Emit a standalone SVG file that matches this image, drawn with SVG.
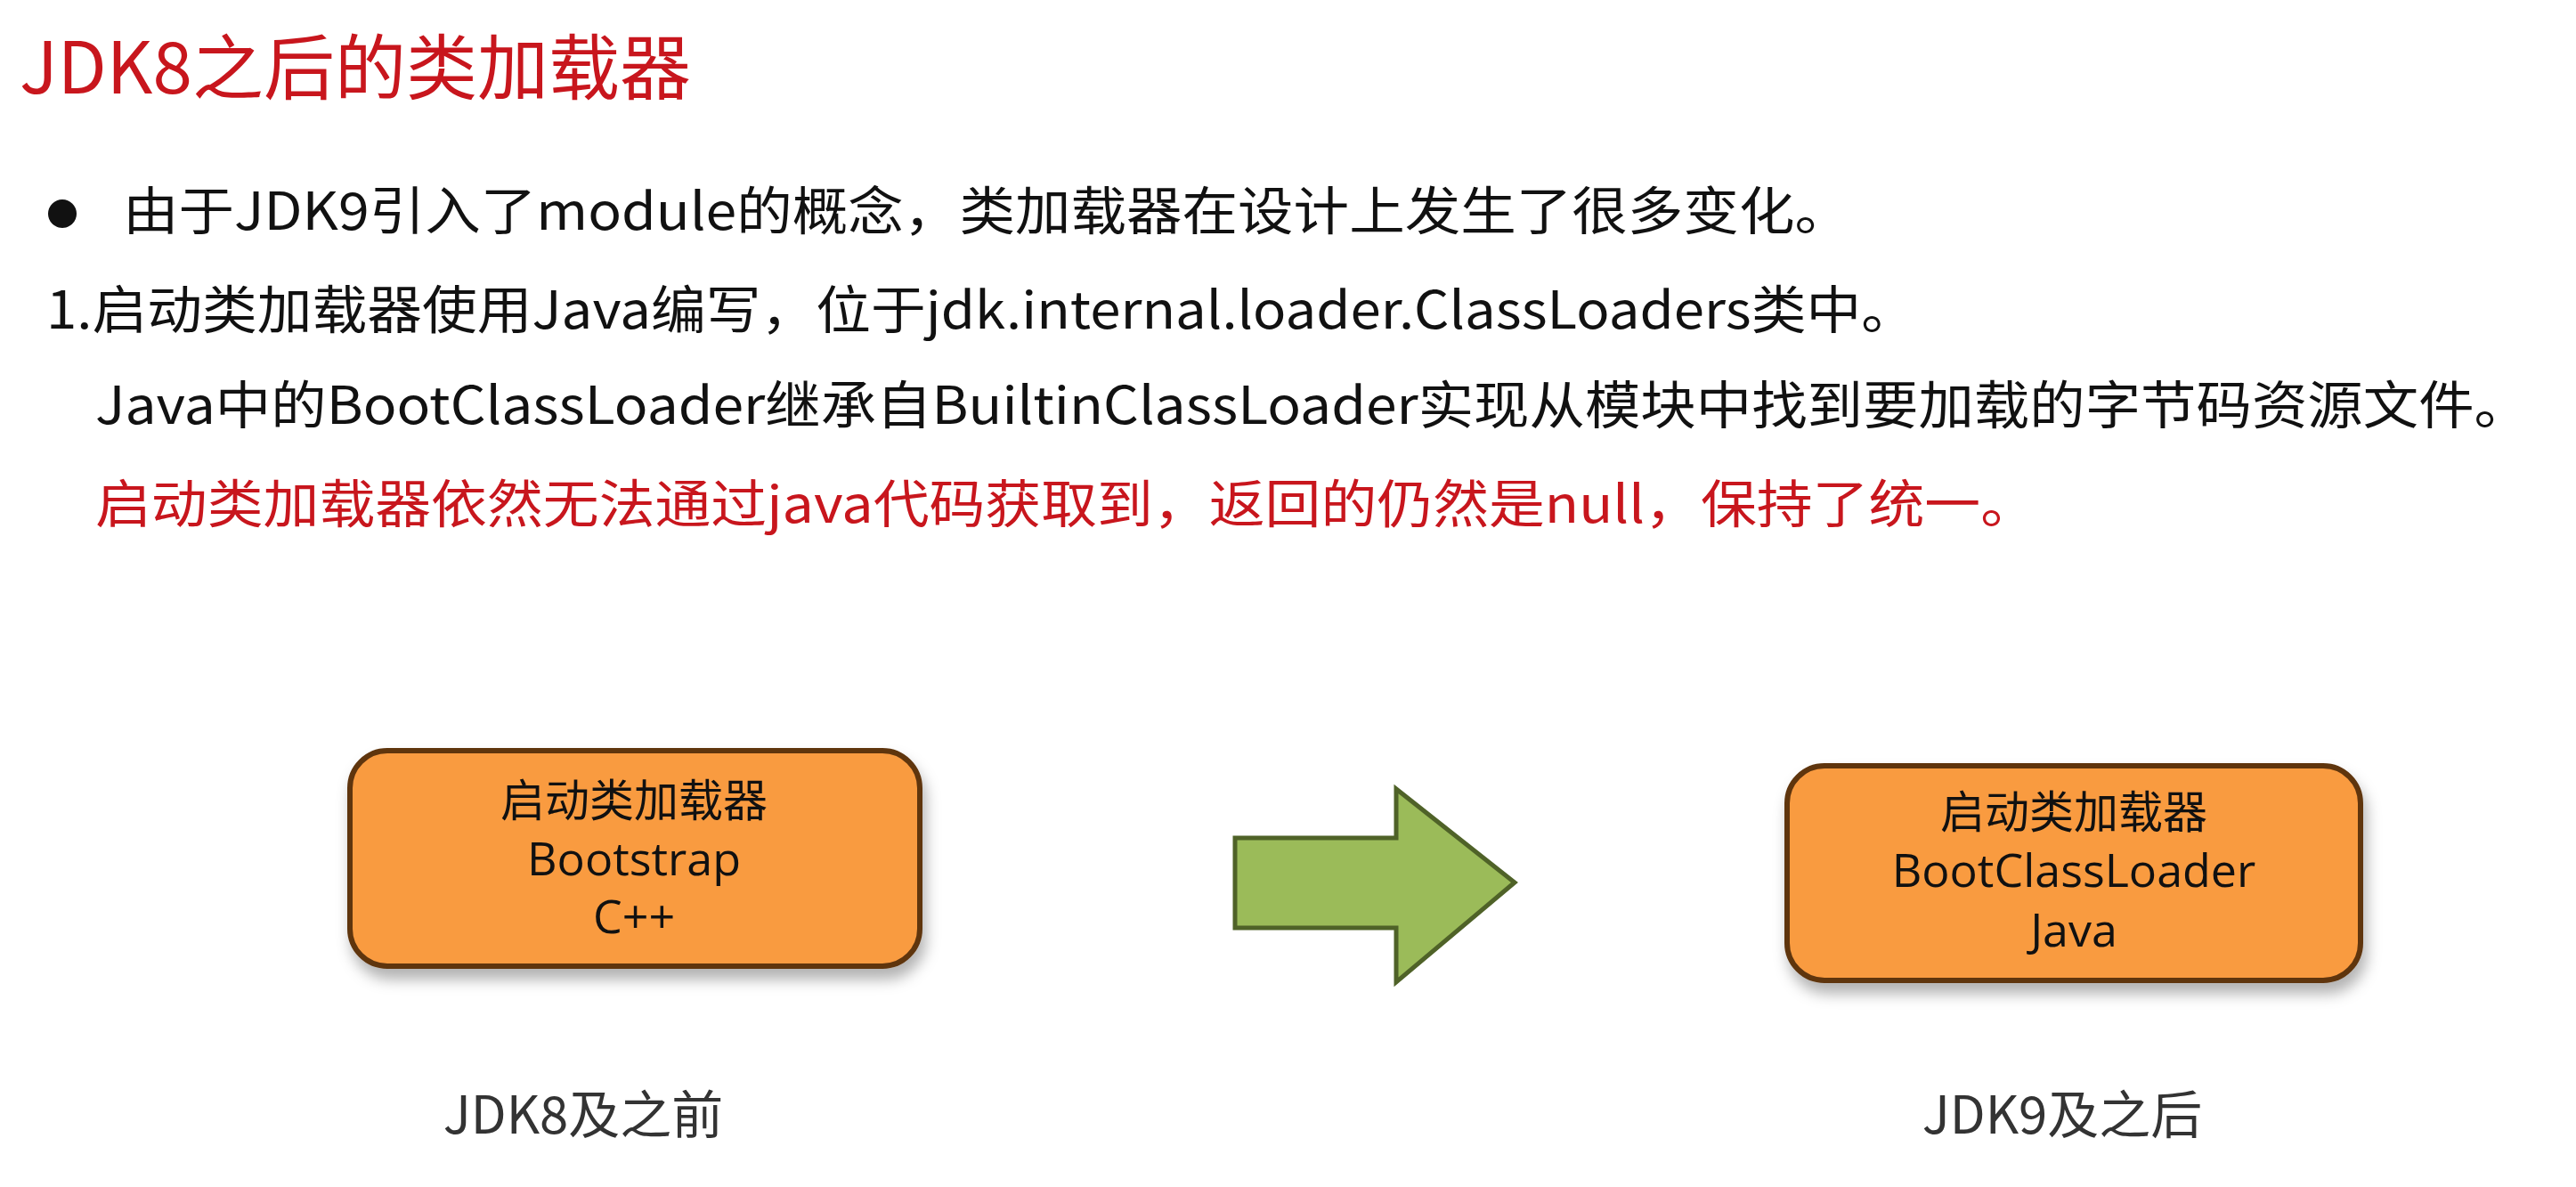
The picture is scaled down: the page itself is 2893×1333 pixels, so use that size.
<svg xmlns="http://www.w3.org/2000/svg" width="2893" height="1333" viewBox="0 0 2893 1333">
<defs>
<filter id="sh" x="-10%" y="-10%" width="130%" height="140%"><feDropShadow dx="4" dy="12" stdDeviation="8" flood-color="#000" flood-opacity="0.3"/></filter>
</defs>
<style>
text{font-family:"Noto Sans CJK SC","Liberation Sans",sans-serif}
.t{font-size:58px;fill:#111}
.r{fill:#c8161d}
.box{fill:#f99b40;stroke:#5e3510;stroke-width:6}
.bt{font-size:50px;fill:#111;text-anchor:middle}
.bl{font-family:"Open Sans","Liberation Sans",sans-serif;font-size:52px}
.lb{font-size:58px;fill:#333;text-anchor:middle}
</style>
<rect width="2893" height="1333" fill="#fff"/>
<text x="22" y="105" font-size="80" class="r">JDK8之后的类加载器</text>
<circle cx="70" cy="240" r="16" fill="#111"/>
<text x="138" y="258" class="t" textLength="1940" lengthAdjust="spacingAndGlyphs">由于JDK9引入了module的概念，类加载器在设计上发生了很多变化。</text>
<text x="52" y="369" class="t" textLength="2100" lengthAdjust="spacingAndGlyphs">1.启动类加载器使用Java编写，位于jdk.internal.loader.ClassLoaders类中。</text>
<text x="107" y="476" class="t" textLength="2734" lengthAdjust="spacingAndGlyphs">Java中的BootClassLoader继承自BuiltinClassLoader实现从模块中找到要加载的字节码资源文件。</text>
<text x="107" y="587" class="t r" textLength="2180" lengthAdjust="spacingAndGlyphs">启动类加载器依然无法通过java代码获取到，返回的仍然是null，保持了统一。</text>
<g id="box1">
<rect class="box" x="393" y="843" width="640" height="242" rx="42" filter="url(#sh)"/>
<text class="bt" x="712" y="917">启动类加载器</text>
<text class="bt bl" x="712" y="983">Bootstrap</text>
<text class="bt bl" x="712" y="1048">C++</text>
</g>
<g id="box2">
<rect class="box" x="2007" y="860" width="644" height="241" rx="42" filter="url(#sh)"/>
<text class="bt" x="2329" y="930">启动类加载器</text>
<text class="bt bl" x="2329" y="996">BootClassLoader</text>
<text class="bt bl" x="2329" y="1063">Java</text>
</g>
<g id="connectors">
<path d="M1387 941 H1568 V886 L1701 991 L1568 1103 V1042 H1387 Z" fill="#9bbb59" stroke="#4f6228" stroke-width="5"/>
</g>
<text class="lb" x="655" y="1273">JDK8及之前</text>
<text class="lb" x="2316" y="1273">JDK9及之后</text>
</svg>
